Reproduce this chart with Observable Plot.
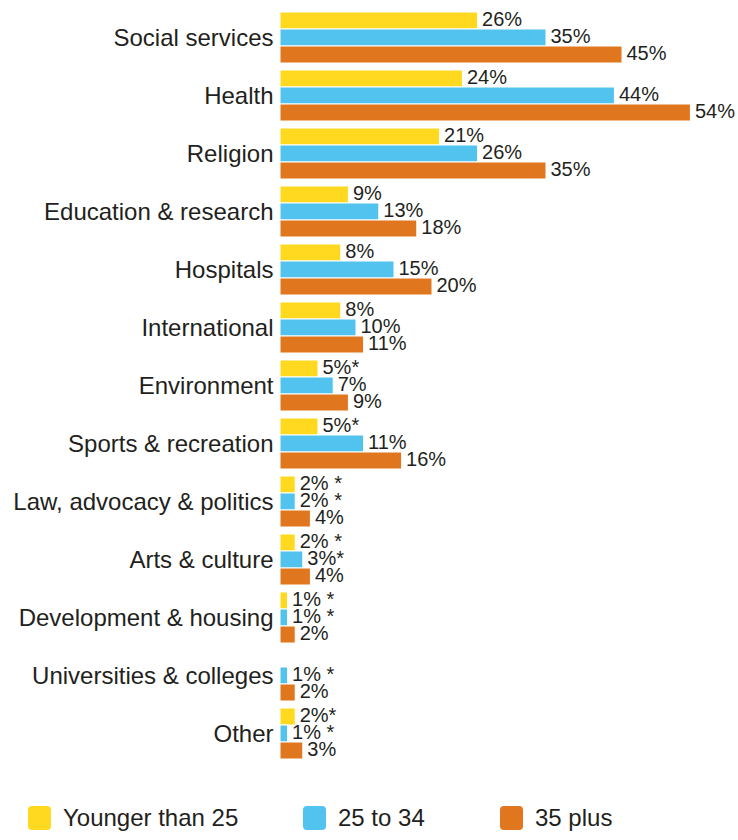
<!DOCTYPE html>
<html>
<head>
<meta charset="utf-8">
<script src="https://cdn.jsdelivr.net/npm/d3@7"></script>
<script src="https://cdn.jsdelivr.net/npm/@observablehq/plot@0.6"></script>
<style>
  body { margin: 0; background: #fff; font-family: "Liberation Sans", Arial, sans-serif; }
  #legend { position: relative; width: 738px; height: 40px; }
  .item { position: absolute; top: 4px; display: flex; align-items: center; font-size: 24px; color: #231f20; }
  .sw { width: 23px; height: 24px; border-radius: 4px; margin-right: 12px; }
</style>
</head>
<body>
<div id="chart"></div>
<div id="legend"></div>
<script>
const categories = ["Social services", "Health", "Religion", "Education & research", "Hospitals", "International", "Environment", "Sports & recreation", "Law, advocacy & politics", "Arts & culture", "Development & housing", "Universities & colleges", "Other"];
const groups = ["Younger than 25", "25 to 34", "35 plus"];
const colors = ["#FFD91F", "#52C2EE", "#E0771E"];
const younger = [26, 24, 21, 9, 8, 8, 5, 5, 2, 2, 1, null, 2];
const mid = [35, 44, 26, 13, 15, 10, 7, 11, 2, 3, 1, 1, 1];
const older = [45, 54, 35, 18, 20, 11, 9, 16, 4, 4, 2, 2, 3];
const youngerLabels = ["26%", "24%", "21%", "9%", "8%", "8%", "5%*", "5%*", "2% *", "2% *", "1% *", "", "2%*"];
const midLabels = ["35%", "44%", "26%", "13%", "15%", "10%", "7%", "11%", "2% *", "3%*", "1% *", "1% *", "1% *"];
const olderLabels = ["45%", "54%", "35%", "18%", "20%", "11%", "9%", "16%", "4%", "4%", "2%", "2%", "3%"];

const series = [[younger, youngerLabels], [mid, midLabels], [older, olderLabels]];
const rows = [];
categories.forEach((c, i) => {
  series.forEach(([vals, labs], g) => {
    if (vals[i] != null) rows.push({category: c, group: groups[g], value: vals[i], label: labs[i]});
  });
});

const chart = Plot.plot({
  width: 738,
  height: 800,
  marginLeft: 280,
  marginRight: 2,
  marginTop: 10,
  marginBottom: 38.6,
  style: {fontFamily: "'Liberation Sans', Arial, sans-serif", fontSize: "24px", color: "#231f20", background: "#fff"},
  x: {domain: [0, 60], axis: null},
  y: {domain: groups, paddingInner: 0, paddingOuter: 0, axis: null},
  fy: {domain: categories, paddingInner: 0.1, paddingOuter: 0, label: null, axis: "left", tickSize: 0, tickPadding: 7},
  color: {domain: groups, range: colors},
  marks: [
    Plot.barX(rows, {x: "value", y: "group", fy: "category", fill: "group", stroke: "#fff", strokeWidth: 1}),
    Plot.text(rows, {x: "value", y: "group", fy: "category", text: "label", textAnchor: "start", dx: 4, dy: -1, fontSize: 20, fill: "#231f20"})
  ]
});
document.getElementById("chart").appendChild(chart);

const legend = document.getElementById("legend");
const lefts = [28, 303, 500];
groups.forEach((g, i) => {
  const it = document.createElement("div");
  it.className = "item";
  it.style.left = lefts[i] + "px";
  const sw = document.createElement("div");
  sw.className = "sw";
  sw.style.background = colors[i];
  it.appendChild(sw);
  const t = document.createElement("span");
  t.textContent = g;
  it.appendChild(t);
  legend.appendChild(it);
});
</script>
</body>
</html>
